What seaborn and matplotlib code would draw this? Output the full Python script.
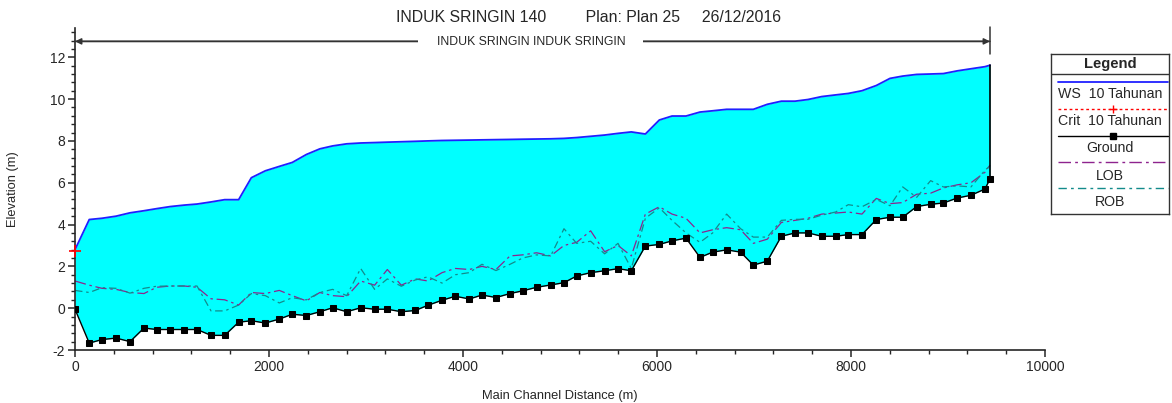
import numpy as np
import pandas as pd
import matplotlib
matplotlib.use("Agg")
import matplotlib.pyplot as plt
from matplotlib.lines import Line2D
from matplotlib.ticker import MultipleLocator
import seaborn as sns

# ---- data ----
station = [0, 147, 278, 423, 567, 711, 842, 983, 1127, 1258, 1402, 1543, 1687, 1818,
           1962, 2106, 2240, 2385, 2524, 2656, 2801, 2945, 3089, 3220, 3364, 3508,
           3639, 3784, 3921, 4065, 4196, 4340, 4485, 4615, 4759, 4904, 5041, 5172,
           5316, 5460, 5598, 5735, 5880, 6024, 6155, 6299, 6443, 6574, 6718, 6862,
           6993, 7137, 7282, 7423, 7557, 7698, 7842, 7972, 8113, 8261, 8402, 8533,
           8677, 8821, 8952, 9096, 9237, 9381, 9433]

ground = [-0.05, -1.67, -1.5, -1.43, -1.6, -0.95, -1.02, -1.02, -1.02, -1.02, -1.3, -1.3,
          -0.67, -0.6, -0.71, -0.52, -0.29, -0.35, -0.17, 0.02, -0.17, 0.02, -0.05, -0.05,
          -0.17, -0.11, 0.14, 0.38, 0.57, 0.44, 0.63, 0.51, 0.7, 0.83, 1.0, 1.11, 1.22,
          1.54, 1.7, 1.79, 1.89, 1.79, 2.97, 3.05, 3.22, 3.35, 2.43, 2.68, 2.79, 2.68,
          2.06, 2.25, 3.44, 3.6, 3.6, 3.44, 3.44, 3.52, 3.52, 4.24, 4.35, 4.35, 4.86,
          4.97, 5.03, 5.27, 5.4, 5.7, 6.18]

ws = [2.8, 4.24, 4.3, 4.4, 4.56, 4.66, 4.76, 4.86, 4.93, 4.98, 5.08, 5.19, 5.19, 6.24,
      6.57, 6.78, 6.97, 7.35, 7.62, 7.76, 7.86, 7.9, 7.92, 7.94, 7.96, 7.98, 8.0, 8.02,
      8.03, 8.04, 8.05, 8.06, 8.07, 8.08, 8.09, 8.1, 8.12, 8.16, 8.22, 8.28, 8.36, 8.43,
      8.33, 9.0, 9.19, 9.19, 9.38, 9.44, 9.51, 9.51, 9.51, 9.75, 9.9, 9.9, 9.98, 10.12,
      10.2, 10.27, 10.4, 10.65, 10.99, 11.1, 11.18, 11.2, 11.22, 11.35, 11.45, 11.55, 11.62]

lob = [1.3, 1.1, 0.95, 0.9, 0.75, 0.7, 1.0, 1.06, 1.06, 1.0, 0.45, 0.4, 0.15, 0.75, 0.7,
       0.85, 0.6, 0.35, 0.75, 0.6, 0.55, 1.3, 1.1, 1.85, 1.1, 1.4, 1.3, 1.7, 1.9, 1.85,
       2.0, 1.85, 2.5, 2.55, 2.65, 2.5, 3.0, 3.15, 3.7, 2.7, 3.0, 2.5, 4.5, 4.85, 4.5,
       4.3, 3.6, 3.75, 3.85, 3.75, 3.1, 3.3, 4.1, 4.2, 4.3, 4.5, 4.55, 4.6, 4.5, 5.25,
       5.0, 5.05, 5.45, 5.5, 5.75, 5.9, 6.0, 6.5, 6.85]

rob = [0.85, 0.75, 0.98, 0.95, 0.72, 0.95, 1.05, 1.06, 1.06, 1.06, -0.13, -0.13, 0.15,
       0.7, 0.6, 0.25, 0.5, 0.4, 0.75, 0.9, 0.6, 1.9, 0.9, 1.4, 1.05, 1.35, 1.5, 1.2,
       1.6, 1.7, 2.1, 1.8, 2.1, 2.4, 2.55, 2.5, 3.8, 3.1, 3.2, 2.6, 3.1, 1.9, 4.3, 4.8,
       4.2, 3.6, 3.15, 3.6, 4.5, 3.8, 3.4, 3.4, 4.2, 4.25, 4.25, 4.45, 4.6, 4.95, 4.85,
       5.2, 4.9, 5.8, 5.3, 6.1, 5.8, 5.85, 5.8, 6.6, 6.8]

crit_station = [0]
crit = [2.75]

title_text = "INDUK SRINGIN 140         Plan: Plan 25     26/12/2016"
reach_text = "INDUK SRINGIN INDUK SRINGIN"
legend_labels = ["WS  10 Tahunan", "Crit  10 Tahunan", "Ground", "LOB", "ROB"]

df = pd.DataFrame({"station": station, "ground": ground, "ws": ws, "lob": lob, "rob": rob})

# ---- style ----
sns.set_style("ticks")
plt.rcParams['font.family'] = ['Liberation Sans', 'DejaVu Sans']
plt.rcParams['axes.linewidth'] = 1.2
plt.rcParams['axes.unicode_minus'] = False

W, H = 1172, 403
fig = plt.figure(figsize=(W / 100, H / 100), dpi=100)
ax = fig.add_axes([75 / W, 1 - 350 / H, 970 / W, 322 / H])

ax.fill_between(df["station"], df["ground"], df["ws"], color='#00FFFF', linewidth=0, zorder=1)
sns.lineplot(data=df, x="station", y="ws", ax=ax, color='#2020FF', linewidth=1.3,
             sort=False, zorder=3)
sns.lineplot(data=df, x="station", y="lob", ax=ax, color='#8E238E', linewidth=0.9,
             sort=False, dashes=False, zorder=2).lines[-1].set_dashes((9, 3, 2, 3))
sns.lineplot(data=df, x="station", y="rob", ax=ax, color='#138B8B', linewidth=0.9,
             sort=False, dashes=False, zorder=2).lines[-1].set_dashes((6, 3, 2, 3))
sns.lineplot(data=df, x="station", y="ground", ax=ax, color='black', linewidth=1.0,
             marker='s', markersize=4.6, markeredgecolor='black', markerfacecolor='black',
             sort=False, zorder=4)
ax.plot([station[-1], station[-1]], [ground[-1], ws[-1]], color='black', lw=1.2, zorder=4)
ax.plot(crit_station, crit, color='red', marker='+', markersize=8, mew=1.2,
        linestyle=':', zorder=5, clip_on=False)

ax.set_xlim(0, 10000)
ax.set_ylim(-2, 13.4)
ax.xaxis.set_major_locator(MultipleLocator(2000))
ax.xaxis.set_minor_locator(MultipleLocator(400))
ax.yaxis.set_major_locator(MultipleLocator(2))
ax.yaxis.set_minor_locator(MultipleLocator(0.4))
ax.tick_params(which='major', length=5, width=1.1, labelsize=10, pad=2)
ax.tick_params(which='minor', length=3, width=1.0)
sns.despine(ax=ax)
ax.set_xlabel("Main Channel Distance (m)", fontsize=9.3, labelpad=12)
ax.set_ylabel("Elevation (m)", fontsize=9.3, labelpad=22)

# reach arrow across the top
ax.annotate("", xy=(0, 12.76), xytext=(station[-1], 12.76),
            arrowprops=dict(arrowstyle='-|>', color='#333333', lw=1.1,
                            mutation_scale=9, shrinkA=0, shrinkB=0),
            annotation_clip=False)
ax.annotate("", xy=(station[-1], 12.76), xytext=(0, 12.76),
            arrowprops=dict(arrowstyle='-|>', color='#333333', lw=1.1,
                            mutation_scale=9, shrinkA=0, shrinkB=0),
            annotation_clip=False)
ax.plot([station[-1], station[-1]], [12.14, 13.43], color='#333333', lw=1.1, clip_on=False)
ax.text(4700, 12.72, reach_text, ha='center', va='center', fontsize=8.8,
        bbox=dict(facecolor='white', edgecolor='none', pad=13), zorder=6)

fig.text(589 / W, 1 - 17 / H, title_text, ha='center', va='center', fontsize=11.4)

# ---- custom legend box ----
lx0, ly0, lw_, lh_ = 1051, 54, 118, 160
lax = fig.add_axes([lx0 / W, 1 - (ly0 + lh_) / H, lw_ / W, lh_ / H])
lax.set_xlim(lx0, lx0 + lw_)
lax.set_ylim(ly0 + lh_, ly0)
lax.set_xticks([])
lax.set_yticks([])
for s in lax.spines.values():
    s.set_linewidth(1.0)
    s.set_color('#333333')
lax.text(lx0 + lw_ / 2, 64, "Legend", ha='center', va='center', fontsize=10.6, fontweight='bold')
lax.axhline(74, color='#333333', lw=1.0)

line_y = [81.7, 109, 135.7, 161.7, 187.7]
text_y = [94, 121, 148, 175.7, 202]
styles = [dict(color='#2020FF', lw=1.3),
          dict(color='red', lw=1.0, dashes=(2, 2), marker='+', markersize=6, markevery=[1]),
          dict(color='black', lw=1.0, marker='s', markersize=4, markevery=[1]),
          dict(color='#8E238E', lw=1.0, dashes=(9, 3, 2, 3)),
          dict(color='#138B8B', lw=1.0, dashes=(6, 3, 2, 3))]
for ly, ty, lab, st in zip(line_y, text_y, legend_labels, styles):
    lax.add_line(Line2D([1058, 1113, 1168], [ly, ly, ly], **st))
    lax.text(lx0 + lw_ / 2, ty, lab, ha='center', va='center', fontsize=10.2)

fig.savefig("out.png", dpi=100)
